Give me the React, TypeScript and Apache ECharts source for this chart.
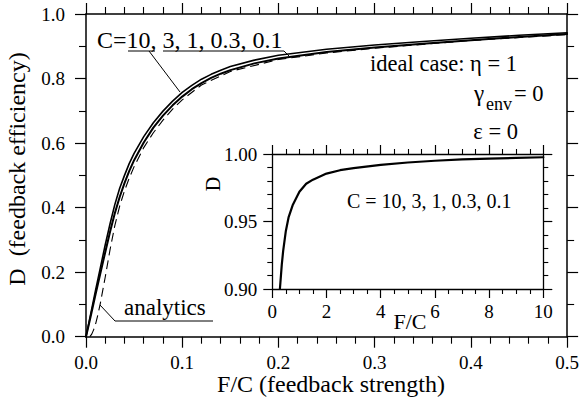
import React, { useEffect, useRef } from "react";
import * as echarts from "echarts";

// ---------- data ----------
// main panel: F/C (feedback strength) values for the simulated curves
const fcMain = [0, 0.005, 0.01, 0.015, 0.02, 0.025, 0.03, 0.035, 0.04, 0.045, 0.05, 0.06, 0.07, 0.08, 0.09, 0.1, 0.11, 0.12, 0.13, 0.14, 0.15, 0.175, 0.2, 0.25, 0.3, 0.35, 0.4, 0.45, 0.5];
// C = 10 (upper / left line)
const dC10 = [0, 0.0725, 0.145, 0.215, 0.285, 0.35, 0.41, 0.46, 0.5, 0.537, 0.568, 0.62, 0.663, 0.699, 0.73, 0.757, 0.779, 0.798, 0.813, 0.826, 0.837, 0.857, 0.872, 0.891, 0.904, 0.915, 0.925, 0.934, 0.942];
// C = 3, 1, 0.3, 0.1 (practically coinciding, lower / right line)
const dCsmall = [0, 0.065, 0.132, 0.197, 0.262, 0.325, 0.383, 0.433, 0.476, 0.514, 0.547, 0.602, 0.648, 0.685, 0.717, 0.744, 0.767, 0.786, 0.802, 0.815, 0.826, 0.847, 0.862, 0.882, 0.896, 0.908, 0.919, 0.929, 0.938];
// analytics (dashed)
const fcAnalytic = [0.004, 0.006, 0.008, 0.01, 0.0125, 0.015, 0.0175, 0.02, 0.025, 0.03, 0.035, 0.04, 0.045, 0.05, 0.06, 0.07, 0.08, 0.09, 0.1, 0.12, 0.15, 0.2, 0.25, 0.3, 0.4, 0.5];
const dAnalytic = [0, 0.008, 0.022, 0.04, 0.07, 0.105, 0.145, 0.185, 0.27, 0.345, 0.405, 0.452, 0.492, 0.527, 0.586, 0.632, 0.671, 0.705, 0.734, 0.78, 0.822, 0.859, 0.879, 0.894, 0.918, 0.936];
// inset: F/C from 0 to 10
const fcInset = [0.28, 0.3, 0.35, 0.4, 0.5, 0.6, 0.75, 1.0, 1.25, 1.5, 2, 2.5, 3, 4, 5, 6, 7, 8, 9, 10];
const dInset = [0.9, 0.905, 0.918, 0.928, 0.943, 0.953, 0.962, 0.972, 0.978, 0.981, 0.9855, 0.988, 0.9895, 0.992, 0.9937, 0.995, 0.996, 0.9966, 0.9971, 0.9976];

// texts
const mainXTitle = "F/C (feedback strength)";
const mainYTitle = "D  (feedback efficiency)";
const curveLabel = "C=10, 3, 1, 0.3, 0.1";
const insetCurveLabel = "C = 10, 3, 1, 0.3, 0.1";

const FONT = "Liberation Serif";
const BLACK = "#000";

function axis(opts: any) {
  const {
    gridIndex, position, min, max, interval, minorSplit, showLabel, labelMargin,
    formatter, tickLen, minorLen, lineWidth,
  } = opts;
  return {
    type: "value",
    gridIndex,
    position,
    min,
    max,
    interval,
    axisLine: { show: true, onZero: false, lineStyle: { color: BLACK, width: lineWidth } },
    axisTick: { show: true, inside: false, length: tickLen, lineStyle: { color: BLACK, width: 1.2 } },
    minorTick: { show: true, splitNumber: minorSplit, length: minorLen, lineStyle: { color: BLACK, width: 1.1 } },
    splitLine: { show: false },
    minorSplitLine: { show: false },
    axisLabel: {
      show: showLabel,
      margin: labelMargin,
      fontSize: 19,
      fontFamily: FONT,
      color: BLACK,
      formatter,
    },
  };
}

function txt(x: number, y: number, text: string, size: number, align = "left", extra: any = {}) {
  return {
    type: "text",
    x,
    y,
    z: 100,
    ...extra,
    style: { text, fontSize: size, fontFamily: FONT, fill: BLACK, align, verticalAlign: "middle" },
  };
}
function seg(x1: number, y1: number, x2: number, y2: number) {
  return { type: "line", z: 100, shape: { x1, y1, x2, y2 }, style: { stroke: BLACK, lineWidth: 1 } };
}

export default function App() {
  const ref = useRef<HTMLDivElement>(null);
  useEffect(() => {
    if (!ref.current) return;
    const chart = echarts.init(ref.current, null, { renderer: "svg" });
    const main = { tickLen: 11, minorLen: 7, lineWidth: 1.5 };
    const ins = { tickLen: 9, minorLen: 5, lineWidth: 1.3 };
    const f1 = (v: number) => v.toFixed(1);
    const f2 = (v: number) => v.toFixed(2);
    const f0 = (v: number) => String(Math.round(v));
    const lineSeries = (name: string, xi: number, xs: number[], ys: number[], lineStyle: any) => ({
      name, type: "line", xAxisIndex: xi, yAxisIndex: xi, symbol: "none", smooth: false, clip: true,
      lineStyle: { color: BLACK, cap: "round", join: "round", ...lineStyle },
      data: xs.map((x, i) => [x, ys[i]]),
    });
    const option: any = {
      animation: false,
      backgroundColor: "#fff",
      textStyle: { fontFamily: FONT },
      grid: [
        { left: 86, right: 13.5, top: 14, bottom: 70.3, show: true, backgroundColor: "#fff", borderWidth: 0 },
        { left: 272.3, right: 38.7, top: 154, bottom: 118, show: true, backgroundColor: "#fff", borderWidth: 0 },
      ],
      xAxis: [
        axis({ gridIndex: 0, position: "bottom", min: 0, max: 0.5, interval: 0.1, minorSplit: 5, showLabel: true, labelMargin: 16, formatter: f1, ...main }),
        axis({ gridIndex: 0, position: "top", min: 0, max: 0.5, interval: 0.1, minorSplit: 5, showLabel: false, labelMargin: 8, formatter: f1, ...main }),
        axis({ gridIndex: 1, position: "bottom", min: 0, max: 10, interval: 2, minorSplit: 4, showLabel: true, labelMargin: 13, formatter: f0, ...ins }),
        axis({ gridIndex: 1, position: "top", min: 0, max: 10, interval: 2, minorSplit: 4, showLabel: false, labelMargin: 8, formatter: f0, ...ins }),
      ],
      yAxis: [
        axis({ gridIndex: 0, position: "left", min: 0, max: 1, interval: 0.2, minorSplit: 2, showLabel: true, labelMargin: 21, formatter: f1, ...main }),
        axis({ gridIndex: 0, position: "right", min: 0, max: 1, interval: 0.2, minorSplit: 2, showLabel: false, labelMargin: 8, formatter: f1, ...main }),
        axis({ gridIndex: 1, position: "left", min: 0.9, max: 1.0, interval: 0.05, minorSplit: 5, showLabel: true, labelMargin: 15, formatter: f2, ...ins }),
        axis({ gridIndex: 1, position: "right", min: 0.9, max: 1.0, interval: 0.05, minorSplit: 5, showLabel: false, labelMargin: 8, formatter: f2, ...ins }),
      ],
      series: [
        lineSeries("C=10", 0, fcMain, dC10, { width: 1.6 }),
        lineSeries("C=3, 1, 0.3, 0.1", 0, fcMain, dCsmall, { width: 2 }),
        lineSeries("analytics", 0, fcAnalytic, dAnalytic, { width: 1.1, type: [9, 5], cap: "butt" }),
        lineSeries("inset", 2, fcInset, dInset, { width: 2.2 }),
      ],
      graphic: [
        txt(17, 169, mainYTitle, 24, "center", { rotation: Math.PI / 2 }),
        txt(331, 384, mainXTitle, 24, "center"),
        txt(97, 40, curveLabel, 24, "left"),
        seg(128, 51, 155, 51),
        seg(163, 51, 284, 51),
        seg(284, 51, 289, 56),
        seg(149, 51, 180, 92),
        txt(124, 307, "analytics", 23, "left"),
        seg(115, 321, 213, 321),
        seg(115, 321, 100, 305),
        txt(517, 63, "ideal case: η = 1", 22.5, "right"),
        txt(474, 93, "γ", 23, "left"),
        txt(486, 104, "env", 18, "left"),
        txt(514, 93, "= 0", 22.5, "left"),
        txt(518, 131, "ε = 0", 22.5, "right"),
        txt(347, 201, insetCurveLabel, 20, "left"),
        txt(213, 184, "D", 20, "center", { rotation: Math.PI / 2 }),
        txt(410, 321, "F/C", 22, "center"),
      ],
    };
    chart.setOption(option);
    return () => chart.dispose();
  }, []);
  return (
    <div
      ref={ref}
      style={{ position: "fixed", left: 0, top: 0, width: 582, height: 407, background: "#fff" }}
    />
  );
}
